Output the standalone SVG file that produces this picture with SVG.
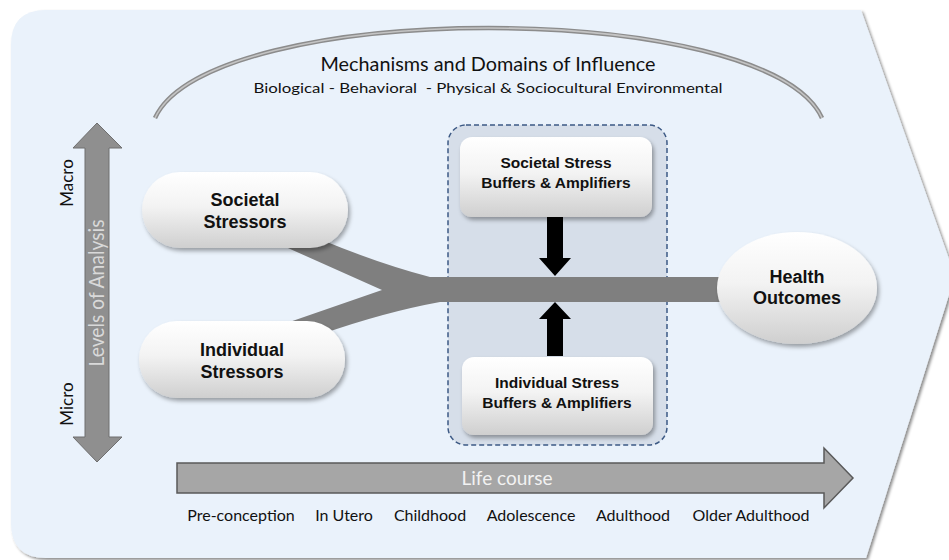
<svg xmlns="http://www.w3.org/2000/svg" width="949" height="560" viewBox="0 0 949 560">
  <defs>
    <linearGradient id="nodeFill" x1="0" y1="0" x2="0" y2="1">
      <stop offset="0" stop-color="#ffffff"/>
      <stop offset="0.45" stop-color="#f3f3f3"/>
      <stop offset="1" stop-color="#cfcfcf"/>
    </linearGradient>
    <filter id="shadow" x="-20%" y="-20%" width="140%" height="150%">
      <feDropShadow dx="2" dy="3" stdDeviation="2" flood-color="#000" flood-opacity="0.35"/>
    </filter>
    <filter id="bgShadow" x="-5%" y="-5%" width="110%" height="110%">
      <feDropShadow dx="2" dy="2" stdDeviation="1.5" flood-color="#000" flood-opacity="0.45"/>
    </filter>
  </defs>
  <style>
    .cal { font-family: Lato, "Open Sans", "Liberation Sans", sans-serif; }
    .node-text { font-family: "Liberation Sans", Arial, sans-serif; font-weight: bold; fill: #111; text-anchor: middle; }
    .pill { fill: url(#nodeFill); filter: url(#shadow); }
    .big { font-size: 18px; }
    .small { font-size: 15.5px; }
    .stage { font-size: 16px; fill: #111; text-anchor: middle; }
    .gray-arrow { fill: #a6a6a6; stroke: #595959; stroke-width: 1.5; }
  </style>

  <rect width="949" height="560" fill="#ffffff"/>

  <!-- background chevron -->
  <path d="M46,10 H861 L955,276 L866,558 H46 Q11,558 11,523 V45 Q11,10 46,10 Z" fill="#eaf2fb" filter="url(#bgShadow)"/>

  <!-- mechanisms arc -->
  <g id="mechanisms">
    <path d="M155,118 C210,-2 767,-2 822,118" fill="none" stroke="#8c8c8c" stroke-width="4.5"/>
    <path d="M155,118 C210,-2 767,-2 822,118" fill="none" stroke="#c4c4c4" stroke-width="1.6"/>
    <text class="cal" x="488" y="71" font-size="19" text-anchor="middle" fill="#111" textLength="335" lengthAdjust="spacingAndGlyphs">Mechanisms and Domains of Influence</text>
    <text class="cal" x="488" y="93" font-size="14" text-anchor="middle" fill="#111" textLength="469" lengthAdjust="spacingAndGlyphs" xml:space="preserve">Biological - Behavioral  - Physical &amp; Sociocultural Environmental</text>
  </g>

  <!-- levels of analysis axis -->
  <g id="levels">
    <polygon points="97,123 122,148 109,148 109,437 122,437 97,462 73,437 85,437 85,148 73,148" fill="#8f8f8f" stroke="#6f6f6f" stroke-width="1"/>
    <text class="cal" transform="translate(104,293) rotate(-90)" font-size="21" text-anchor="middle" fill="#d9d9d9" textLength="147" lengthAdjust="spacingAndGlyphs">Levels of Analysis</text>
    <text class="cal" transform="translate(73,183) rotate(-90)" font-size="17" text-anchor="middle" fill="#111">Macro</text>
    <text class="cal" transform="translate(73,404) rotate(-90)" font-size="17" text-anchor="middle" fill="#111">Micro</text>
  </g>

  <!-- buffer container -->
  <g id="buffers">
    <rect x="448" y="125" width="219" height="320" rx="18" fill="#d6dee9" stroke="#3d5a85" stroke-width="1.5" stroke-dasharray="5 3"/>
  </g>

  <!-- connectors -->
  <g id="connectors">
    <path d="M270,240 L322,240 Q380,264 430,277 L722,277 L722,302 L440,302 Q385,312 322,334 L278,326 L382,290 Z" fill="#7f7f7f"/>
    <polygon points="547,217 563,217 563,258 571,258 555,276 539,258 547,258" fill="#000"/>
    <polygon points="547,356 563,356 563,319 571,319 555,302 539,319 547,319" fill="#000"/>
  </g>

  <g id="societal-stressors">
    <rect class="pill" x="142" y="172" width="206" height="76" rx="38"/>
    <text class="node-text big" x="245" y="206">Societal</text>
    <text class="node-text big" x="245" y="228">Stressors</text>
  </g>

  <g id="individual-stressors">
    <rect class="pill" x="139" y="321" width="206" height="77" rx="38"/>
    <text class="node-text big" x="242" y="356">Individual</text>
    <text class="node-text big" x="242" y="378">Stressors</text>
  </g>

  <g id="societal-buffers">
    <rect class="pill" x="460" y="137" width="192" height="80" rx="12"/>
    <text class="node-text small" x="556" y="168">Societal Stress</text>
    <text class="node-text small" x="556" y="188">Buffers &amp; Amplifiers</text>
  </g>

  <g id="individual-buffers">
    <rect class="pill" x="462" y="357" width="191" height="78" rx="12"/>
    <text class="node-text small" x="557" y="388">Individual Stress</text>
    <text class="node-text small" x="557" y="408">Buffers &amp; Amplifiers</text>
  </g>

  <g id="health-outcomes">
    <ellipse class="pill" cx="797" cy="288" rx="80" ry="56"/>
    <text class="node-text big" x="797" y="283">Health</text>
    <text class="node-text big" x="797" y="304">Outcomes</text>
  </g>

  <!-- life course axis -->
  <g id="life-course">
    <polygon class="gray-arrow" points="177,463 824,463 824,448 853,478 824,508 824,493 177,493"/>
    <text class="cal" x="507" y="485" font-size="19" text-anchor="middle" fill="#f2f2f2">Life course</text>
    <text class="cal stage" x="241" y="521">Pre-conception</text>
    <text class="cal stage" x="344" y="521">In Utero</text>
    <text class="cal stage" x="430" y="521">Childhood</text>
    <text class="cal stage" x="531" y="521">Adolescence</text>
    <text class="cal stage" x="633" y="521">Adulthood</text>
    <text class="cal stage" x="751" y="521">Older Adulthood</text>
  </g>
</svg>
